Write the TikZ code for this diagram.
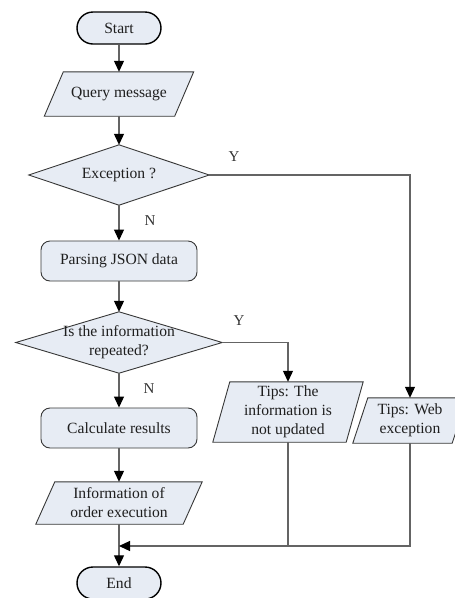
\documentclass[tikz,border=0pt]{standalone}
\usepackage{fontspec}
\setmainfont{Liberation Serif}
\usetikzlibrary{arrows.meta,backgrounds}
\definecolor{boxfill}{RGB}{231,236,244}
\definecolor{wirecol}{RGB}{100,100,100}
\definecolor{edgecol}{RGB}{55,55,55}

% outline of a slanted input/output box around a plain node
\newcommand\slantoutline[2]{%
  \draw[outline] ([xshift=#2]#1.north west) -- ([xshift=#2]#1.north east)
    -- ([xshift=-#2]#1.south east) -- ([xshift=-#2]#1.south west) -- cycle;}
% outline of a decision diamond spanning a plain node
\newcommand\diamondoutline[1]{%
  \draw[outline] (#1.north) -- (#1.east) -- (#1.south) -- (#1.west) -- cycle;}

\begin{document}
\begin{tikzpicture}[x=1pt,y=-1pt,
  txt/.style={font=\fontsize{15.6}{19}\selectfont, text=black!88, align=center, inner sep=0pt},
  term/.style={txt, draw=black, line width=1.4pt, fill=boxfill, rounded corners=16pt,
               minimum width=84pt, minimum height=32pt},
  proc/.style={txt, draw=edgecol, line width=0.9pt, fill=boxfill, rounded corners=9pt,
               minimum width=156pt, minimum height=40pt},
  outline/.style={draw=edgecol, line width=0.9pt, fill=boxfill},
  wire/.style={draw=wirecol, line width=1.2pt},
  arr/.style={wire, -{Triangle[length=11pt,width=10pt,color=black]}},
  lab/.style={font=\fontsize{15}{18}\selectfont, text=black!80, inner sep=0pt}
]
\useasboundingbox (0,0) rectangle (455,598);

% main column
\node[term] (start) at (119,28) {Start};
\node[txt, minimum width=130pt, minimum height=44pt] (query) at (119,94) {Query message};
\node[txt, minimum width=180pt, minimum height=60pt] (exc) at (119,175) {Exception ?};
\node[proc] (parse) at (119,261) {Parsing JSON data};
\node[txt, minimum width=206pt, minimum height=61pt] (rep) at (119,342.5) {Is the information\\repeated?};
\node[proc] (calc) at (119,428) {Calculate results};
\node[txt, minimum width=147pt, minimum height=42pt] (info) at (119,503) {Information of\\order execution};
\node[term] (stop) at (119,583) {End};

% side branches
\node[txt, minimum width=133pt, minimum height=60pt] (tips1) at (288,412) {Tips: The\\information is\\not updated};
\node[txt, minimum width=99pt, minimum height=45pt] (tips2) at (410,420.5) {Tips: Web\\exception};

\coordinate (join) at (119,546);

\begin{scope}[on background layer]
  \slantoutline{query}{9.5pt}
  \diamondoutline{exc}
  \diamondoutline{rep}
  \slantoutline{info}{9.5pt}
  \slantoutline{tips1}{8.5pt}
  \slantoutline{tips2}{7.5pt}
\end{scope}

% branch labels
\node[lab] (y1) at (234,157) {Y};
\node[lab] (n1) at (150,221) {N};
\node[lab] (y2) at (239,321) {Y};
\node[lab] (n2) at (149,389) {N};

% connectors
\draw[arr] (start.south) -- (query.north);
\draw[arr] (query.south) -- (exc.north);
\draw[arr] (exc.east) -| (tips2.north);
\draw[arr] (exc.south) -- (parse.north);
\draw[arr] (parse.south) -- (rep.north);
\draw[arr] (rep.east) -| (tips1.north);
\draw[arr] (rep.south) -- (calc.north);
\draw[arr] (calc.south) -- (info.north);
\draw[arr] (info.south) -- (stop.north);
\draw[wire] (tips1.south) -- (tips1.south |- join);
\draw[arr] (tips2.south) |- (join);
\end{tikzpicture}
\end{document}
